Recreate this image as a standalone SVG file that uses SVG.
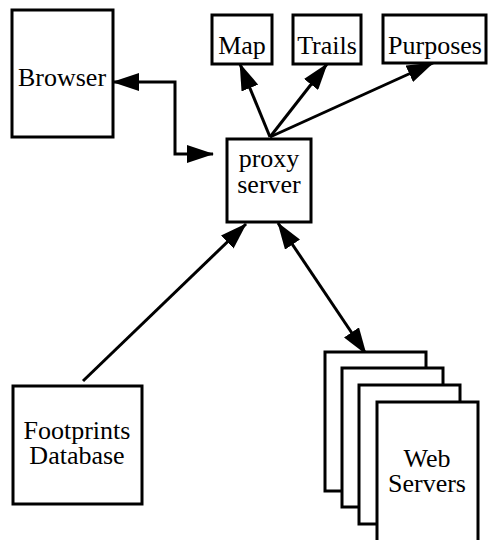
<svg xmlns="http://www.w3.org/2000/svg" width="488" height="540" viewBox="0 0 488 540">
  <defs>
    <marker id="head" viewBox="0 0 27 18" markerWidth="27" markerHeight="18" refX="26" refY="9" markerUnits="userSpaceOnUse" orient="auto-start-reverse">
      <path d="M0,0 L27,9 L0,18 z" fill="#000"/>
    </marker>
  </defs>
  <style>
    .box { fill: #fff; stroke: #000; stroke-width: 3; }
    .lbl { font-family: "Liberation Serif", "Times New Roman", serif; font-size: 26px; fill: #000; text-anchor: middle; }
    .edge { fill: none; stroke: #000; stroke-width: 3; }
  </style>
  <rect width="488" height="540" fill="#fff"/>

  <g id="connectors">
    <path class="edge" d="M113,82 H175 V154 H213" marker-start="url(#head)" marker-end="url(#head)"/>
    <line class="edge" x1="270" y1="137" x2="240" y2="64" marker-end="url(#head)"/>
    <line class="edge" x1="270" y1="137" x2="327" y2="64" marker-end="url(#head)"/>
    <line class="edge" x1="270" y1="137" x2="433" y2="63" marker-end="url(#head)"/>
    <line class="edge" x1="83" y1="381" x2="246" y2="224" marker-end="url(#head)"/>
    <line class="edge" x1="278" y1="223" x2="366" y2="354" marker-start="url(#head)" marker-end="url(#head)"/>
  </g>

  <g id="browser">
    <rect class="box" x="12" y="10" width="101" height="127"/>
    <text class="lbl" x="62" y="86">Browser</text>
  </g>

  <g id="map">
    <rect class="box" x="212" y="15" width="60" height="49"/>
    <text class="lbl" x="242" y="54">Map</text>
  </g>

  <g id="trails">
    <rect class="box" x="293" y="15" width="68" height="49"/>
    <text class="lbl" x="327" y="54">Trails</text>
  </g>

  <g id="purposes">
    <rect class="box" x="383" y="15" width="103" height="48"/>
    <text class="lbl" x="435" y="54">Purposes</text>
  </g>

  <g id="proxy">
    <rect class="box" x="227" y="139" width="84" height="83"/>
    <text class="lbl" x="269" y="167">proxy</text>
    <text class="lbl" x="269" y="193">server</text>
  </g>

  <g id="footprints">
    <rect class="box" x="13" y="386" width="129" height="118"/>
    <text class="lbl" x="77" y="439">Footprints</text>
    <text class="lbl" x="77" y="464">Database</text>
  </g>

  <g id="web-servers">
    <rect class="box" x="325" y="352" width="101" height="139"/>
    <rect class="box" x="342" y="368" width="101" height="139"/>
    <rect class="box" x="359" y="385" width="101" height="139"/>
    <rect class="box" x="377" y="402" width="101" height="145"/>
    <text class="lbl" x="427" y="467">Web</text>
    <text class="lbl" x="427" y="492">Servers</text>
  </g>
</svg>
